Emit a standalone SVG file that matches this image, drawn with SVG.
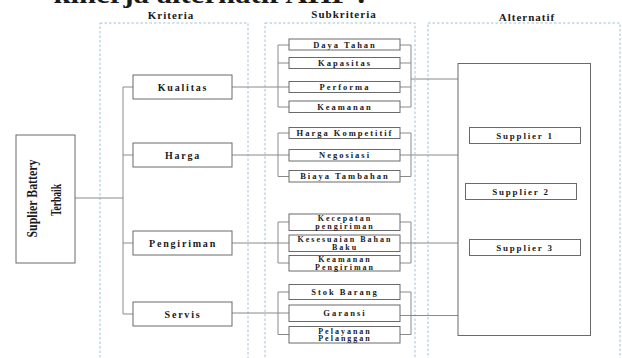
<svg xmlns="http://www.w3.org/2000/svg" width="622" height="358" viewBox="0 0 622 358">
<style>
.cont{fill:none;stroke:#9cc2d8;stroke-width:1;stroke-dasharray:2.5,2}
.box{fill:#fff;stroke:#6a6a6a;stroke-width:1}
.ln{fill:none;stroke:#8a8a8a;stroke-width:1}
text{font-family:"Liberation Serif","Times New Roman",serif;font-weight:bold;fill:#1a1a1a;text-anchor:middle}
.hd{font-size:11px;letter-spacing:1px}
.k{font-size:10px;letter-spacing:1.8px}
.s{font-size:8.5px;letter-spacing:2px}
.s2{font-size:8px;letter-spacing:2px}
.a{font-size:9px;letter-spacing:1.8px}
</style>
<rect width="622" height="358" fill="#fff"/>
<text x="210" y="2.5" style="font-size:26px;text-anchor:middle" textLength="313" lengthAdjust="spacingAndGlyphs">kinerja alternatif AHP :</text>

<g id="containers">
<rect class="cont" x="100" y="23" width="148" height="350"/>
<rect class="cont" x="265" y="23" width="150" height="350"/>
<rect class="cont" x="428" y="23" width="192" height="350"/>
<text class="hd" x="171" y="18.5">Kriteria</text>
<text class="hd" x="344" y="18">Subkriteria</text>
<text class="hd" x="527" y="21">Alternatif</text>
</g>

<g id="connectors">
<path class="ln" d="M75,198 H123 M123,87 V314 M123,87 H133 M123,155 H133 M123,243 H133 M123,314 H133"/>
<path class="ln" d="M232,87 H289 M232,155 H289 M232,243 H289 M232,313 H289"/>
<path class="ln" d="M278,45 V107 M278,45 H289 M278,63 H289 M278,107 H289"/>
<path class="ln" d="M400,45 H411 M400,63 H411 M400,87 H411 M400,107 H411 M411,45 V107 M411,79 H458"/>
<path class="ln" d="M278,133 V176.5 M278,133 H289 M278,176.5 H289 M400,133 H411 M400,176.5 H411 M411,133 V176.5 M400,155 H458"/>
<path class="ln" d="M278,222 V263 M278,222 H289 M278,263 H289 M400,222 H411 M400,263 H411 M411,222 V263 M400,243 H458"/>
<path class="ln" d="M278,292 V334.5 M278,292 H289 M278,334.5 H289 M400,292 H411 M400,334.5 H411 M411,292 V334.5 M400,315.5 H458"/>
</g>

<g id="root">
<rect class="box" x="16" y="135" width="59" height="128"/>
<text transform="translate(37,198.5) rotate(-90)" style="font-size:14px" textLength="78" lengthAdjust="spacingAndGlyphs">Suplier Battery</text>
<text transform="translate(60.5,200) rotate(-90)" style="font-size:14px" textLength="32" lengthAdjust="spacingAndGlyphs">Terbaik</text>
</g>

<g id="kualitas"><rect class="box" x="133" y="75" width="99" height="24"/><text class="k" x="183" y="90.5">Kualitas</text></g>
<g id="harga"><rect class="box" x="133" y="143" width="99" height="24"/><text class="k" x="183" y="158.5">Harga</text></g>
<g id="pengiriman"><rect class="box" x="133" y="231" width="99" height="24"/><text class="k" x="183" y="246.5">Pengiriman</text></g>
<g id="servis"><rect class="box" x="133" y="302" width="99" height="24"/><text class="k" x="183" y="317.5">Servis</text></g>

<g id="daya-tahan"><rect class="box" x="289" y="39" width="111" height="11"/><text class="s" x="345" y="47.5">Daya Tahan</text></g>
<g id="kapasitas"><rect class="box" x="289" y="57.5" width="111" height="11"/><text class="s" x="345" y="66">Kapasitas</text></g>
<g id="performa"><rect class="box" x="289" y="81.5" width="111" height="11"/><text class="s" x="345" y="90">Performa</text></g>
<g id="keamanan"><rect class="box" x="289" y="101" width="111" height="11.5"/><text class="s" x="345" y="109.8">Keamanan</text></g>

<g id="harga-kompetitif"><rect class="box" x="289" y="127.5" width="111" height="11"/><text class="s" x="345" y="136">Harga Kompetitif</text></g>
<g id="negosiasi"><rect class="box" x="289" y="149.5" width="111" height="11.5"/><text class="s" x="345" y="158.3">Negosiasi</text></g>
<g id="biaya-tambahan"><rect class="box" x="289" y="170.5" width="111" height="11.5"/><text class="s" x="345" y="179.3">Biaya Tambahan</text></g>

<g id="kecepatan"><rect class="box" x="289" y="214" width="111" height="16.5"/><text class="s2" x="345" y="221">Kecepatan</text><text class="s2" x="345" y="228.5">pengiriman</text></g>
<g id="kesesuaian"><rect class="box" x="289" y="235" width="111" height="16.5"/><text class="s2" x="345" y="242">Kesesuaian Bahan</text><text class="s2" x="345" y="249.5">Baku</text></g>
<g id="keamanan-pengiriman"><rect class="box" x="289" y="255.5" width="111" height="15.5"/><text class="s2" x="345" y="262">Keamanan</text><text class="s2" x="345" y="269.5">Pengiriman</text></g>

<g id="stok-barang"><rect class="box" x="289" y="284.5" width="111" height="15"/><text class="s" x="345" y="295">Stok Barang</text></g>
<g id="garansi"><rect class="box" x="289" y="305" width="111" height="16.5"/><text class="s" x="345" y="316">Garansi</text></g>
<g id="pelayanan"><rect class="box" x="289" y="326.5" width="111" height="16.5"/><text class="s2" x="345" y="333.5">Pelayanan</text><text class="s2" x="345" y="341">Pelanggan</text></g>

<g id="alternatif-box"><rect class="box" x="458" y="63.5" width="132.5" height="272"/></g>
<g id="supplier-1"><rect class="box" x="469.5" y="127.5" width="111" height="16"/><text class="a" x="525" y="138.5">Supplier 1</text></g>
<g id="supplier-2"><rect class="box" x="465.5" y="183.5" width="111" height="16"/><text class="a" x="521" y="194.5">Supplier 2</text></g>
<g id="supplier-3"><rect class="box" x="469.5" y="239.5" width="111" height="16"/><text class="a" x="525" y="250.5">Supplier 3</text></g>
</svg>
